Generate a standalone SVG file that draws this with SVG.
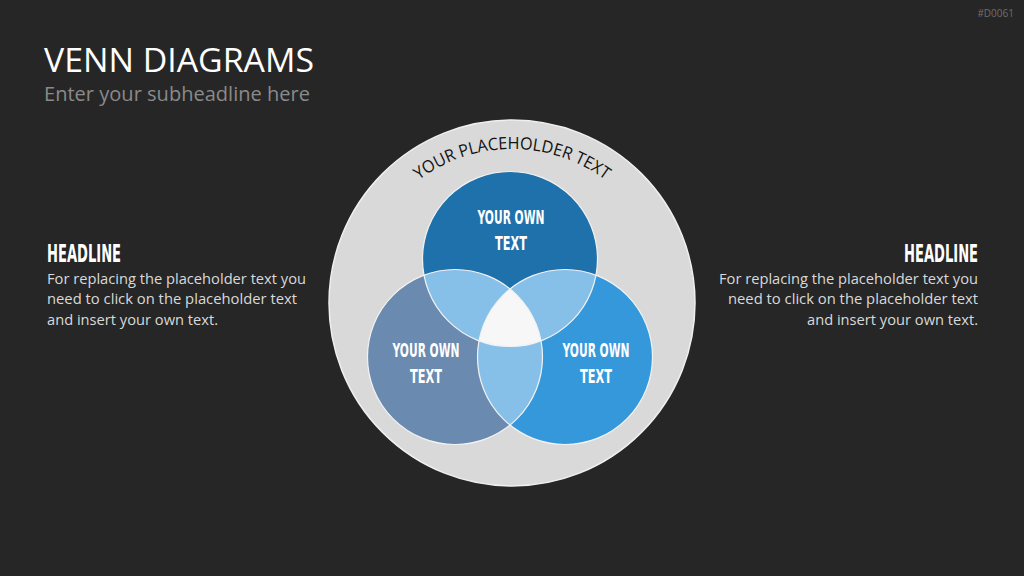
<svg xmlns="http://www.w3.org/2000/svg" width="1024" height="576" viewBox="0 0 1024 576">
<style>
.bg{fill:#262626}
.title{font-family:"Open Sans","Liberation Sans",sans-serif;fill:#ffffff}
.sub{font-family:"Open Sans","Liberation Sans",sans-serif;fill:#8a8a8a}
.hd{font-family:"Liberation Sans Narrow","DejaVu Sans Condensed","Liberation Sans",sans-serif;font-weight:bold;fill:#ffffff}
.body{font-family:"Open Sans","Liberation Sans",sans-serif;fill:#d9d9d9;font-size:14.5px}
.ct{font-family:"Liberation Sans Narrow","DejaVu Sans Condensed","Liberation Sans",sans-serif;font-weight:bold;fill:#ffffff;font-size:20px;text-anchor:middle}
.edge{stroke:#f2f2f2;stroke-width:1.2}
</style>
<defs>
<clipPath id="cT"><circle cx="510" cy="259" r="87.5"/></clipPath>
<clipPath id="cL"><circle cx="455" cy="357" r="87.5"/></clipPath>
<path id="arc" d="M 356,305 A 156 156 0 0 1 668,305"/>
</defs>
<rect class="bg" x="0" y="0" width="1024" height="576"/>
<text x="1014" y="17" font-family="Open Sans, Liberation Sans, sans-serif" font-size="10" fill="#6e6e6e" text-anchor="end">#D0061</text>
<g id="title">
<text class="title" x="44" y="72" font-size="33" textLength="270" lengthAdjust="spacingAndGlyphs">VENN DIAGRAMS</text>
<text class="sub" x="44" y="101" font-size="20" textLength="266" lengthAdjust="spacingAndGlyphs">Enter your subheadline here</text>
</g>
<g id="left-text">
<text class="hd" x="0" y="0" font-size="24" transform="translate(47,262) scale(0.607,1)">HEADLINE</text>
<text class="body" x="47" y="284" textLength="259" lengthAdjust="spacingAndGlyphs">For replacing the placeholder text you</text>
<text class="body" x="47" y="304" textLength="250" lengthAdjust="spacingAndGlyphs">need to click on the placeholder text</text>
<text class="body" x="47" y="325" textLength="171" lengthAdjust="spacingAndGlyphs">and insert your own text.</text>
</g>
<g id="right-text">
<text class="hd" x="0" y="0" font-size="24" transform="translate(904,262) scale(0.607,1)">HEADLINE</text>
<text class="body" x="719" y="284" textLength="259" lengthAdjust="spacingAndGlyphs">For replacing the placeholder text you</text>
<text class="body" x="728" y="304" textLength="250" lengthAdjust="spacingAndGlyphs">need to click on the placeholder text</text>
<text class="body" x="807" y="325" textLength="171" lengthAdjust="spacingAndGlyphs">and insert your own text.</text>
</g>
<g id="outer">
<circle cx="512" cy="303" r="183" fill="#d9d9d9" stroke="#efefef" stroke-width="1.5"/>
<text font-family="Open Sans, Liberation Sans, sans-serif" font-size="17" fill="#111111"><textPath href="#arc" startOffset="50%" text-anchor="middle" textLength="200" lengthAdjust="spacingAndGlyphs">YOUR PLACEHOLDER TEXT</textPath></text>
</g>
<g id="venn">
<circle id="top" cx="510" cy="259" r="87.5" fill="#1f71ab"/>
<circle id="left" cx="455" cy="357" r="87.5" fill="#6a8aaf"/>
<circle id="right" cx="565" cy="357" r="87.5" fill="#3598da"/>
<g clip-path="url(#cT)"><circle cx="455" cy="357" r="87.5" fill="#86bfe8"/><circle cx="565" cy="357" r="87.5" fill="#86bfe8"/></g>
<g clip-path="url(#cL)"><circle cx="565" cy="357" r="87.5" fill="#86bfe8"/></g>
<g clip-path="url(#cT)"><g clip-path="url(#cL)"><circle cx="565" cy="357" r="87.5" fill="#f7f7f7"/></g></g>
<circle class="edge" cx="510" cy="259" r="87.5" fill="none"/>
<circle class="edge" cx="455" cy="357" r="87.5" fill="none"/>
<circle class="edge" cx="565" cy="357" r="87.5" fill="none"/>
</g>
<g id="label-top">
<text class="ct" x="511" y="224" textLength="67" lengthAdjust="spacingAndGlyphs">YOUR OWN</text>
<text class="ct" x="511" y="250" textLength="32" lengthAdjust="spacingAndGlyphs">TEXT</text>
</g>
<g id="label-left">
<text class="ct" x="426" y="357" textLength="67" lengthAdjust="spacingAndGlyphs">YOUR OWN</text>
<text class="ct" x="426" y="383" textLength="32" lengthAdjust="spacingAndGlyphs">TEXT</text>
</g>
<g id="label-right">
<text class="ct" x="596" y="357" textLength="67" lengthAdjust="spacingAndGlyphs">YOUR OWN</text>
<text class="ct" x="596" y="383" textLength="32" lengthAdjust="spacingAndGlyphs">TEXT</text>
</g>
</svg>
